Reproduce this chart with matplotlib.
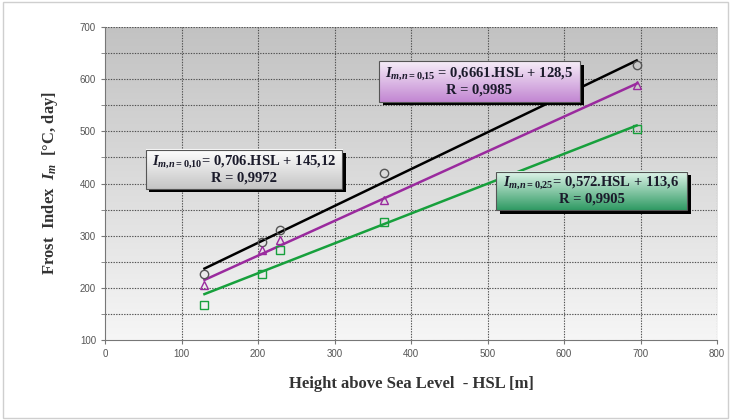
import numpy as np
import matplotlib
matplotlib.use("Agg")
import matplotlib.pyplot as plt
from matplotlib.patches import Rectangle
from matplotlib.colors import LinearSegmentedColormap

# data
hsl = [130, 205, 229, 365, 695]
im_010 = [227, 287, 311, 421, 628]
im_015 = [206, 273, 291, 369, 589]
im_025 = [167, 227, 272, 326, 505]

# regression coefficients (slope, intercept) as printed in the boxes
fit_010 = (0.706, 145.12)
fit_015 = (0.6661, 128.5)
fit_025 = (0.572, 113.6)

plt.rcParams['mathtext.fontset'] = 'custom'
plt.rcParams['mathtext.rm'] = 'Liberation Serif:bold'
plt.rcParams['mathtext.it'] = 'Liberation Serif:italic:bold'
plt.rcParams['mathtext.bf'] = 'Liberation Serif:bold'

fig = plt.figure(figsize=(7.31, 4.20), dpi=100)
fig.patches.append(Rectangle((0.004, 0.005), 0.992, 0.99, transform=fig.transFigure,
                             fill=False, edgecolor='#cfcfcf', lw=1.0))
ax = fig.add_axes([105 / 731, 1 - 340 / 420, 612 / 731, 313 / 420])

# gray gradient background
grad = np.linspace(0, 1, 256).reshape(-1, 1)
bg = LinearSegmentedColormap.from_list('bg', ['#f6f6f6', '#c2c2c2'])
ax.imshow(grad, extent=[0, 1, 0, 1], transform=ax.transAxes, cmap=bg,
          aspect='auto', origin='lower', zorder=0)

ax.set_xlim(0, 800)
ax.set_ylim(100, 700)
ax.set_xticks(range(0, 801, 100))
ax.set_yticks(range(100, 701, 100))
ax.set_yticks(range(150, 700, 100), minor=True)
for x in range(100, 801, 100):
    ax.axvline(x, color='#505050', lw=0.8, ls=(0, (1.2, 1.2)), zorder=1)
for y in range(150, 701, 50):
    ax.axhline(y, color='#505050', lw=0.8, ls=(0, (1.2, 1.2)), zorder=1)

for sp in ['top', 'right']:
    ax.spines[sp].set_visible(False)
ax.spines['left'].set_color('#777777')
ax.spines['bottom'].set_color('#777777')
ax.tick_params(which='both', length=3, color='#777777', labelsize=7, labelcolor='#555555')
for lab in ax.get_xticklabels() + ax.get_yticklabels():
    lab.set_fontfamily('Liberation Sans')

xs = np.array([hsl[0], hsl[-1]])
series = [
    (im_010, fit_010, 'black', '#555555', 'o'),
    (im_015, fit_015, '#9a2a9e', '#9a2a9e', '^'),
    (im_025, fit_025, '#17a03c', '#17a03c', 's'),
]
for vals, (a, b), lc, mc, mk in series:
    ax.plot(xs, a * xs + b, color=lc, lw=1.8, zorder=3)
    ax.plot(hsl, vals, ls='none', marker=mk, ms=6, mfc='none', mec=mc, mew=1.0, zorder=4)

def box(x0, x1, y0, y1, top, bottom, line1, line2):
    ax.add_patch(Rectangle((x0 + 5, y0 - 7), x1 - x0, y1 - y0, facecolor='black',
                           edgecolor='none', zorder=5))
    cm = LinearSegmentedColormap.from_list('b', [bottom, top])
    ax.imshow(grad, extent=[x0, x1, y0, y1], cmap=cm, aspect='auto',
              origin='lower', zorder=6)
    ax.add_patch(Rectangle((x0, y0), x1 - x0, y1 - y0, fill=False,
                           edgecolor='#555555', lw=0.8, zorder=7))
    xc = (x0 + x1) / 2
    ax.text(xc, y0 + (y1 - y0) * 0.70, line1, ha='center', va='center', fontsize=10.5,
            family='Liberation Serif', weight='bold', color='#1a1a2a', zorder=8)
    ax.text(xc, y0 + (y1 - y0) * 0.28, line2, ha='center', va='center', fontsize=10.5,
            family='Liberation Serif', weight='bold', color='#1a1a2a', zorder=8)

box(53, 310, 390, 465, '#ffffff', '#c4c4c4',
    r'$I_{m{,}n{=}0{,}10}$= 0,706.HSL + 145,12', 'R = 0,9972')
box(358, 621, 557, 634, '#f6eef8', '#c286d2',
    r'$I_{m{,}n{=}0{,}15}$ = 0,6661.HSL + 128,5', 'R = 0,9985')
box(511, 761, 349, 423, '#e2f6ec', '#2f9a63',
    r'$I_{m{,}n{=}0{,}25}$= 0,572.HSL + 113,6', 'R = 0,9905')

ax.set_xlabel('Height above Sea Level  - HSL [m]', family='Liberation Serif',
              weight='bold', fontsize=12, color='#333333', labelpad=12)
ax.set_ylabel(r'Frost  Index  $I_m$  [°C, day]', family='Liberation Serif',
              weight='bold', fontsize=12, color='#333333', labelpad=14)

fig.savefig('out.png', dpi=100)
